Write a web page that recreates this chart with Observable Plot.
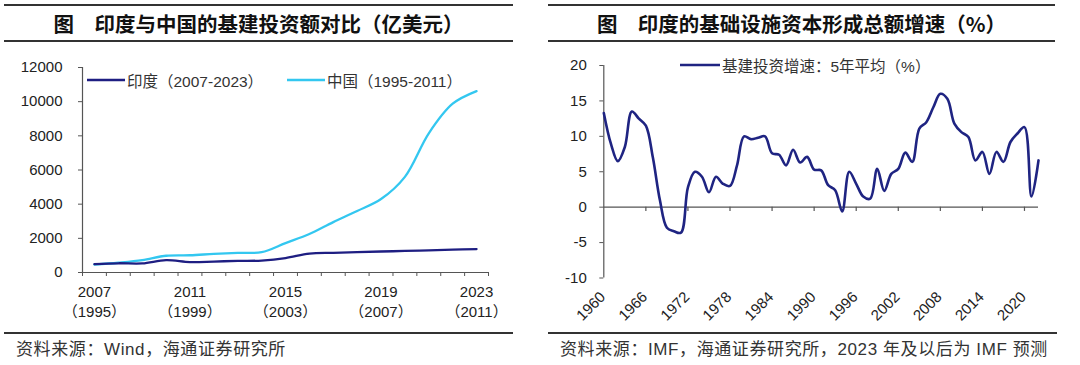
<!DOCTYPE html>
<html><head><meta charset="utf-8">
<script src="https://cdn.jsdelivr.net/npm/d3@7"></script>
<script src="https://cdn.jsdelivr.net/npm/@observablehq/plot@0.6"></script>
<style>
body{margin:0;background:#fff;}
#wrap{position:relative;width:1080px;height:365px;overflow:hidden;font-family:"Liberation Sans",Arial,"Noto Sans CJK SC",sans-serif;color:#222;background:#fff;}
.title{position:absolute;top:4px;height:38px;box-sizing:border-box;border-top:2px solid #333;border-bottom:2px solid #333;font-family:"Noto Sans CJK SC",sans-serif;font-weight:700;font-size:20.5px;line-height:34px;text-align:center;color:#111;white-space:nowrap;}
.srcrule{position:absolute;top:332px;height:0;border-top:2px solid #333;}
.src{position:absolute;top:340px;font-size:17px;line-height:20px;letter-spacing:0.6px;color:#333;white-space:nowrap;font-family:"Liberation Sans",Arial,"Noto Sans CJK SC",sans-serif;}
.chart{position:absolute;top:50px;}
.legend{position:absolute;height:20px;display:flex;align-items:center;font-size:15.5px;color:#333;white-space:nowrap;}
.legend svg{display:block;margin-right:2px;}
</style></head>
<body>
<div id="wrap">
  <div class="title" style="left:4px;width:509px;">图　印度与中国的基建投资额对比（亿美元）</div>
  <div class="title" style="left:548px;width:507px;">图　印度的基础设施资本形成总额增速（%）</div>
  <div id="left" class="chart" style="left:0px;"></div>
  <div id="right" class="chart" style="left:540px;"></div>
  <div class="legend" style="left:87px;top:70px;"><svg width="38" height="4"><line x1="0" y1="2" x2="38" y2="2" stroke="#1e1e82" stroke-width="2.5"/></svg><span>印度（2007-2023）</span></div>
  <div class="legend" style="left:287px;top:70px;"><svg width="38" height="4"><line x1="0" y1="2" x2="38" y2="2" stroke="#33c7f0" stroke-width="2.5"/></svg><span>中国（1995-2011）</span></div>
  <div class="legend" style="left:680px;top:55px;"><svg width="40" height="4"><line x1="0" y1="2" x2="40" y2="2" stroke="#1f2482" stroke-width="2.5"/></svg><span>基建投资增速：5年平均（%）</span></div>
  <div class="srcrule" style="left:4px;width:509px;"></div>
  <div class="srcrule" style="left:548px;width:509px;"></div>
  <div class="src" style="left:16px;">资料来源：Wind，海通证券研究所</div>
  <div class="src" style="left:560px;">资料来源：IMF，海通证券研究所，2023 年及以后为 IMF 预测</div>
</div>
<script>
// ---- Left chart data ----
const indiaYears = [2007,2008,2009,2010,2011,2012,2013,2014,2015,2016,2017,2018,2019,2020,2021,2022,2023];
const chinaYears = [1995,1996,1997,1998,1999,2000,2001,2002,2003,2004,2005,2006,2007,2008,2009,2010,2011];
const indiaValues = [490,540,530,720,610,640,680,700,840,1110,1150,1190,1230,1260,1300,1335,1370];
const chinaValues = [460,570,720,980,1010,1090,1150,1190,1720,2250,2950,3600,4300,5600,8150,9880,10620];
const leftYTicks = [0,2000,4000,6000,8000,10000,12000];
const leftLabelYears = [2007,2011,2015,2019,2023];

// ---- Right chart data ----
const rightYears = [1960,1961,1962,1963,1964,1965,1966,1967,1968,1969,
  1970,1971,1972,1973,1974,1975,1976,1977,1978,1979,
  1980,1981,1982,1983,1984,1985,1986,1987,1988,1989,
  1990,1991,1992,1993,1994,1995,1996,1997,1998,1999,
  2000,2001,2002,2003,2004,2005,2006,2007,2008,2009,
  2010,2011,2012,2013,2014,2015,2016,2017,2018,2019,
  2020,2021,2022];
const rightValues = [13.3,9.0,6.5,8.5,13.5,12.5,11.5,7.0,1.0,-2.9,
  -3.4,-3.6,2.8,5.0,4.3,2.1,4.3,3.3,3.0,5.9,
  10.0,9.6,9.8,10.0,7.6,7.4,5.9,8.1,6.3,7.1,
  5.3,5.2,3.1,2.4,-0.6,5.0,3.3,1.5,1.2,5.4,
  2.3,4.7,5.4,7.7,6.4,11.1,12.0,14.1,16.0,15.3,
  11.8,10.6,9.9,6.6,7.8,4.7,7.8,6.4,9.2,10.4,
  11.3,1.5,6.6];
const rightTickYears = [1960,1966,1972,1978,1984,1990,1996,2002,2008,2014,2020];
const rightYTicks = [-10,-5,0,5,10,15,20];

const font = '"Liberation Sans", Arial, "Noto Sans CJK SC", sans-serif';
const axisColor = "#555";

const leftRows = indiaYears.map((y, i) => ({pos: y, india: indiaValues[i], china: chinaValues[i]}));
const x0 = indiaYears[0] - 0.5, x1 = indiaYears[indiaYears.length - 1] + 0.5;
const leftBoundaries = indiaYears.map(y => y - 0.5).concat([x1]);

const left = Plot.plot({
  width: 540, height: 280,
  marginLeft: 82, marginRight: 52, marginTop: 17, marginBottom: 58,
  x: {domain: [x0, x1]},
  y: {domain: [0, 12000]},
  style: {fontFamily: font, fontSize: "15px", color: "#222", background: "transparent", overflow: "visible"},
  marks: [
    Plot.axisY({ticks: leftYTicks, tickSize: 4, tickPadding: 16, tickFormat: d => String(d), label: null, stroke: axisColor, fill: "#222"}),
    Plot.axisX({ticks: leftBoundaries, tickSize: 4, tickFormat: () => "", label: null, stroke: axisColor}),
    Plot.ruleX([x0], {y1: 0, y2: 12000, stroke: axisColor, strokeWidth: 1.2}),
    Plot.ruleY([0], {x1: x0, x2: x1, stroke: axisColor, strokeWidth: 1.2}),
    Plot.line(leftRows, {x: "pos", y: "china", stroke: "#33c7f0", strokeWidth: 2.3, curve: "catmull-rom"}),
    Plot.line(leftRows, {x: "pos", y: "india", stroke: "#1e1e82", strokeWidth: 2.3, curve: "catmull-rom"}),
    Plot.text(leftLabelYears, {x: d => d, y: 0, text: d => String(d), dy: 20, lineAnchor: "middle", fill: "#222", fontSize: 15}),
    Plot.text(leftLabelYears, {x: d => d, y: 0, text: d => "（" + chinaYears[indiaYears.indexOf(d)] + "）", dy: 40, lineAnchor: "middle", fill: "#222", fontSize: 15})
  ]
});
document.getElementById("left").appendChild(left);

const rightRows = rightYears.map((y, i) => ({year: y, value: rightValues[i]}));
const rx0 = rightYears[0], rx1 = rightYears[rightYears.length - 1];

const right = Plot.plot({
  width: 540, height: 280,
  marginLeft: 63.3, marginRight: 42, marginTop: 15, marginBottom: 52.5,
  x: {domain: [rx0, rx1], axis: null},
  y: {domain: [-10, 20]},
  style: {fontFamily: font, fontSize: "15px", color: "#222", background: "transparent", overflow: "visible"},
  marks: [
    Plot.axisY({ticks: rightYTicks, tickSize: 4, tickPadding: 13, tickFormat: d => String(d), label: null, stroke: axisColor, fill: "#222"}),
    Plot.ruleX([rx0], {y1: -10, y2: 20, stroke: axisColor, strokeWidth: 1.2}),
    Plot.ruleY([0], {x1: rx0, x2: rx1, stroke: axisColor, strokeWidth: 1.2}),
    Plot.ruleX(rightTickYears.slice(1), {x: d => d, y1: 0, y2: -0.6, stroke: axisColor, strokeWidth: 1.2}),
    Plot.line(rightRows, {x: "year", y: "value", stroke: "#1f2482", strokeWidth: 2.6, curve: "catmull-rom"}),
    Plot.text(rightTickYears, {x: d => d, y: -10, text: d => String(d), rotate: -45, textAnchor: "end", lineAnchor: "middle", dx: -1, dy: 16.5, fill: "#222", fontSize: 15})
  ]
});
document.getElementById("right").appendChild(right);
</script>
</body></html>
